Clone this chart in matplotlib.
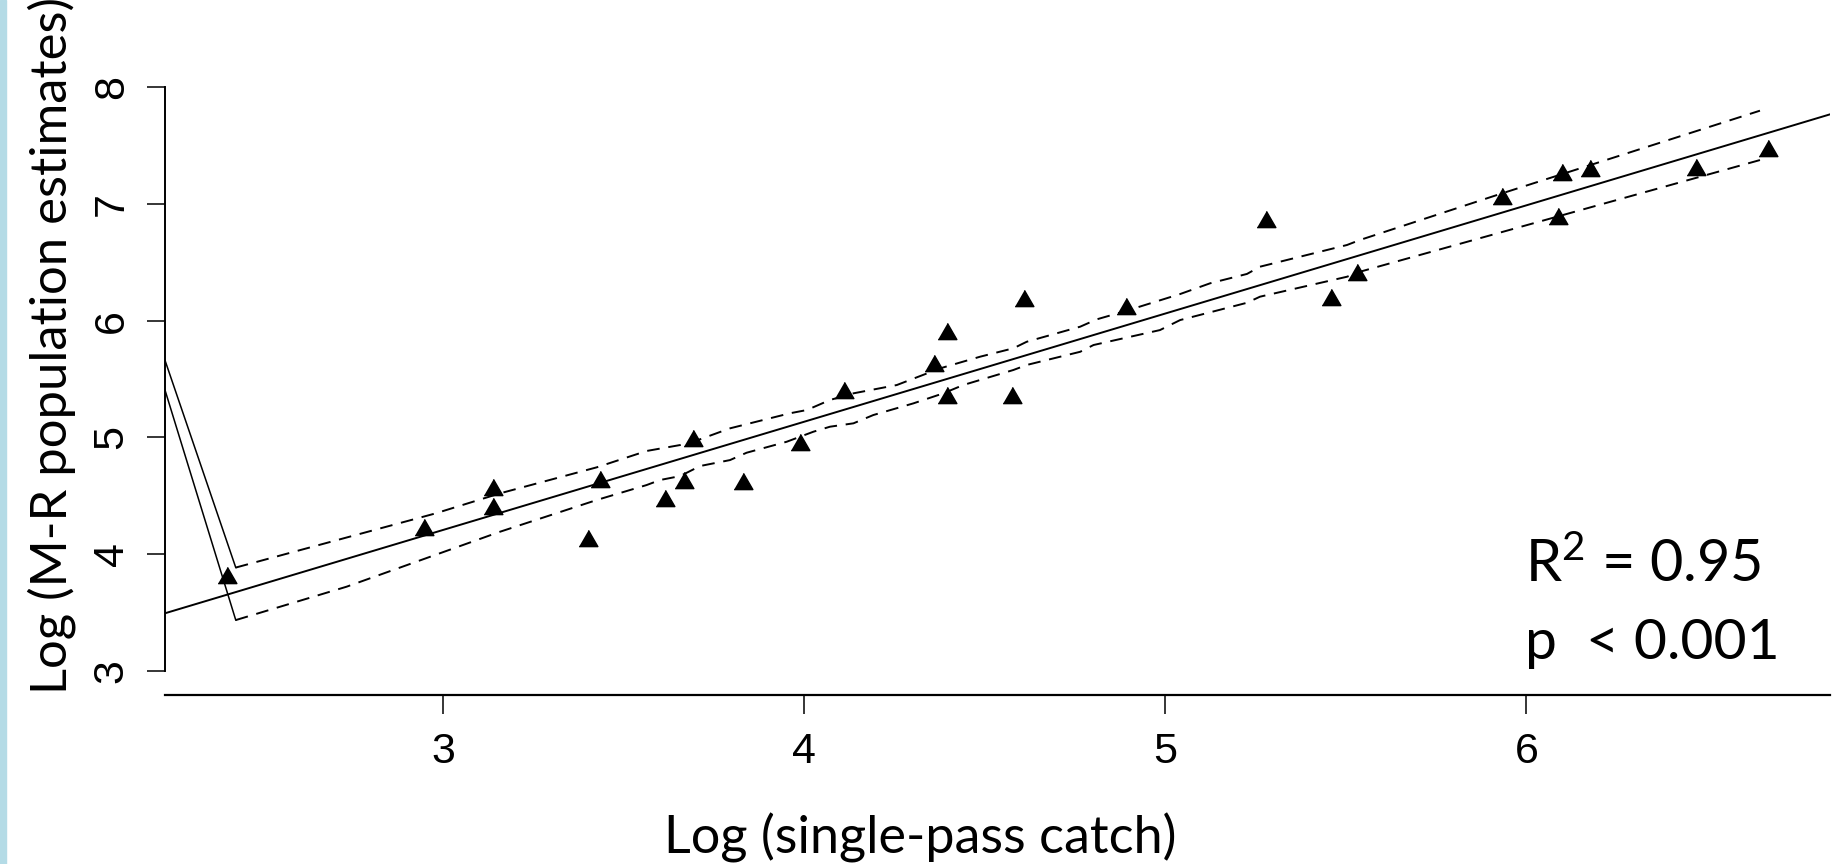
import numpy as np
import matplotlib
matplotlib.use("Agg")
import matplotlib.pyplot as plt
import matplotlib.patches as pat

####################################################################################
# Data

# log single-pass catch vs log M-R population estimate
catch_x = [2.400, 2.947, 3.137, 3.137, 3.402, 3.434, 3.614, 3.667, 3.691,
           3.831, 3.988, 4.111, 4.359, 4.396, 4.396, 4.576, 4.609, 4.891,
           5.279, 5.459, 5.530, 5.933, 6.088, 6.099, 6.176, 6.469, 6.670]
mr_y = [3.820, 4.234, 4.572, 4.411, 4.135, 4.640, 4.482, 4.634, 4.991,
        4.628, 4.962, 5.405, 5.639, 5.913, 5.362, 5.362, 6.191, 6.128,
        6.868, 6.205, 6.419, 7.068, 6.896, 7.271, 7.305, 7.314, 7.482]

# fitted line
fit_slope = 0.927
fit_intercept = 1.426

# upper confidence band
upper_x = [2.425, 2.977, 3.157, 3.425, 3.563, 3.656, 3.711, 3.794, 3.960,
           4.007, 4.071, 4.136, 4.256, 4.376, 4.487, 4.579, 4.616, 4.764,
           4.810, 4.893, 5.041, 5.124, 5.226, 5.262, 5.503, 5.539, 5.927, 6.647]
upper_y = [3.884, 4.347, 4.520, 4.743, 4.883, 4.934, 4.983, 5.077, 5.206,
           5.234, 5.320, 5.377, 5.448, 5.591, 5.691, 5.763, 5.819, 5.948,
           6.011, 6.085, 6.228, 6.320, 6.400, 6.462, 6.648, 6.691, 7.085, 7.799]

# lower confidence band
lower_x = [2.425, 2.732, 3.157, 3.425, 3.563, 3.600, 3.656, 3.711, 3.794,
           3.840, 3.951, 4.025, 4.071, 4.136, 4.191, 4.302, 4.385, 4.440,
           4.579, 4.616, 4.764, 4.801, 4.985, 5.041, 5.226, 5.262, 5.503,
           5.539, 6.084, 6.647]
lower_y = [3.434, 3.720, 4.191, 4.463, 4.591, 4.634, 4.668, 4.754, 4.805,
           4.868, 4.962, 5.048, 5.091, 5.120, 5.191, 5.291, 5.377, 5.448,
           5.577, 5.620, 5.733, 5.791, 5.919, 6.005, 6.153, 6.205, 6.376,
           6.419, 6.890, 7.376]

# the two stray solid strokes at the left end of the bands
stray_upper_x = [2.229, 2.425]
stray_upper_y = [5.660, 3.884]
stray_lower_x = [2.229, 2.425]
stray_lower_y = [5.405, 3.434]

x_ticks = [3, 4, 5, 6]
y_ticks = [3, 4, 5, 6, 7, 8]

stat_lines = ["R$\\mathregular{^{2}}$ = 0.95", "p  < 0.001"]

####################################################################################

W, H = 1841, 864
fig = plt.figure(figsize=(W / 100, H / 100), dpi=100)

# light blue strip on the left edge of the slide
fig.patches.append(pat.Rectangle((0, 0), 6 / W, 1, transform=fig.transFigure,
                                 color='#B4DBE6', zorder=0))

ax = fig.add_axes([165 / W, (H - 695) / H, (1830 - 165) / W, (695 - 50) / H])
ax.set_xlim(2.229, 6.841)
ax.set_ylim(2.792, 8.319)

for s in ['top', 'right']:
    ax.spines[s].set_visible(False)
ax.spines['left'].set_bounds(3, 8)
ax.spines['left'].set_linewidth(1.4)
ax.spines['bottom'].set_linewidth(1.6)

# points
tri = [(-1, -0.866), (1, -0.866), (0, 0.866)]
ax.plot(catch_x, mr_y, linestyle='none', marker=tri, ms=13.5, color='black',
        zorder=5)

# regression line
xl = np.array(ax.get_xlim())
ax.plot(xl, fit_intercept + fit_slope * xl, color='black', lw=1.4)

# confidence bands
ax.plot(upper_x, upper_y, color='black', lw=1.4, linestyle=(0, (6.5, 4.5)))
ax.plot(lower_x, lower_y, color='black', lw=1.4, linestyle=(0, (6.5, 4.5)))
ax.plot(stray_upper_x, stray_upper_y, color='black', lw=1.1)
ax.plot(stray_lower_x, stray_lower_y, color='black', lw=1.1)

ax.set_xticks(x_ticks)
ax.set_yticks(y_ticks)
ax.tick_params(axis='x', length=13.7, width=1.1, pad=13, labelsize=31)
ax.tick_params(axis='y', length=13, width=1.1, pad=11, labelsize=31,
               labelrotation=90)
for lab in ax.get_xticklabels() + ax.get_yticklabels():
    lab.set_family('Liberation Sans')
for lab in ax.get_yticklabels():
    lab.set_va('center')

# axis titles (slide text boxes)
fig.text(52 / W, 1 - 345 / H, "Log (M-R population estimates)", rotation=90,
         ha='center', va='center', fontsize=36.5, family='Lato')
fig.text(920 / W, 1 - 838 / H, "Log (single-pass catch)",
         ha='center', va='center', fontsize=37.5, family='Lato')

# stats
fig.text(1525 / W, 1 - 582 / H, stat_lines[0], ha='left', va='baseline',
         fontsize=41.5, family='Lato')
fig.text(1525 / W, 1 - 659 / H, stat_lines[1], ha='left', va='baseline',
         fontsize=41, family='Lato')

plt.savefig('out.png', dpi=100)
